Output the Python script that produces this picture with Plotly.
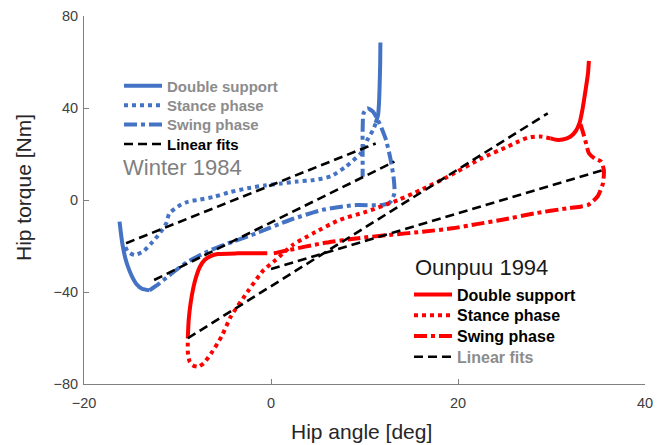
import plotly.graph_objects as go

# ---------------- data (hip angle [deg], hip torque [Nm]) ----------------
# Winter 1984
w_ds_x = [11.7, 11.68, 11.62, 11.55, 11.45, 11.2, None,
          -16.2, -16.05, -15.9, -15.6, -15.3, -14.9, -14.4, -13.8, -13.0]
w_ds_y = [68.5, 60, 50, 42, 37, 33.5, None,
          -9.4, -14.5, -19, -25, -29, -33, -36.5, -38.6, -39.3]

w_st_x = [11.2, 10.9, 10.3, 9.6, 8.0, 6.4, 4.6, 2.8, 1.1, -0.7, -2.5, -4.3, -6.1,
          -7.6, -8.9, -9.6, -10.3, -10.9, -11.2, -11.9, -12.8, -13.7, -14.6, -15.3, -15.6]
w_st_y = [33.3, 30.4, 26.1, 20.3, 14.5, 10.3, 8.7, 8.0, 7.2, 6.3, 5.1, 3.5, 1.4,
          0.2, -0.8, -2.0, -3.8, -6.0, -10.1, -14.5, -18.8, -22.5, -23.9, -22.5, -20.3]

w_sw_x = [-13.0, -12.0, -11.05, -10.0, -8.9, -6.4, -4.0, -1.6, 2.0, 5.5, 9.1, 11.9,
          12.8, 13.2, 13.2, 13.1, 12.8, 12.3, 11.6, 10.9, 10.3, 9.9, 9.8, 9.8, 9.8]
w_sw_y = [-39.3, -36.5, -33.3, -30.0, -26.8, -21.7, -18.0, -14.5, -8.7, -4.3, -2.2, -2.2,
          -0.7, 2.9, 5.8, 10.1, 17.4, 26.1, 33.3, 38.4, 39.9, 37.7, 30.4, 18.8, 10.1]

w_fit_x = [-15.5, 11.2, None, -12.5, 13.2]
w_fit_y = [-18.8, 24.6, None, -34.8, 16.7]

# Ounpuu 1994
o_ds_x = [34.0, 33.9, 33.7, 33.5, 33.3, 33.0, 32.6, 32.0, 31.2, 30.5, 29.9, None,
          -8.9, -8.8, -8.6, -8.3, -8.0, -7.6, -7.1, -6.4, -5.7, -3.6, -0.4]
o_ds_y = [60.5, 55, 49.3, 44, 39.1, 33.5, 30.0, 27.5, 26.3, 26.2, 26.8, None,
          -60.1, -52, -44.9, -38, -33.3, -29, -26.1, -24.3, -23.5, -23.2, -23.2]

o_st_x = [29.9, 28.8, 27.5, 26.5, 25.3, 22.5, 18.9, 16.0, 13.6, 10.2, 7.3, 4.5, 2.3,
          0.5, -0.8, -2.5, -4.3, -5.3, -6.4, -7.2, -7.8, -8.4, -8.7, -8.9, -8.9, -8.9]
o_st_y = [26.8, 27.6, 27.2, 25.5, 23.2, 18.1, 10.1, 4.3, 0.0, -5.1, -8.7, -14.5, -19.6,
          -26.1, -30.5, -39.9, -50.7, -59.4, -66.7, -71.0, -72.5, -71.8, -70.3, -66.0, -62.3, -60.1]

o_sw_x = [0.3, 2.0, 5.5, 9.1, 12.65, 16.2, 19.4, 22.0, 24.6, 28.2, 31.7, 33.2, 33.9,
          34.9, 35.5, 35.6, 35.3, 34.6, 34.0, 33.7, 33.3, 33.0]
o_sw_y = [-23.2, -21.7, -18.8, -16.7, -15.2, -13.8, -12.3, -10.5, -8.7, -5.8, -3.6, -2.8, -2.2,
          1.4, 7.2, 13.0, 16.7, 18.1, 20.3, 24.6, 30.4, 34.0]

o_fit_x = [-8.9, 29.6, None, 0.0, 35.5]
o_fit_y = [-60.1, 37.7, None, -30.0, 13.0]

x_ticks = [-20, 0, 20, 40]
y_ticks = [-80, -40, 0, 40, 80]

# ---------------- styling ----------------
BLUE = "#4472C4"
RED = "#FF0000"
GRAY_TXT = "#8c8c8c"
FONT = "Liberation Sans, Arial, sans-serif"
DOT = "4px,4px"
DASHDOT = "13px,4px,4px,4px"
FITDASH = "9px,5px"

# plot area in pixels (figure coordinates)
L, R, T, B = 84, 645, 16, 384
def px_x(p):
    return (p - L) / (R - L)
def px_y(p):
    return (B - p) / (B - T)


def lab(text, color):
    return f"<span style='color:{color}'>{text}</span>"


fig = go.Figure()
legends = {}

def add(x, y, name, color, width, dash, legend_id, row_px, left_px, fsize):
    fig.add_trace(go.Scatter(
        x=x, y=y, mode="lines", name=name, legend=legend_id, showlegend=True,
        line=dict(color=color, width=width, dash=dash, shape="spline", smoothing=0.6),
        connectgaps=False, hoverinfo="skip"))
    legends[legend_id] = dict(
        x=px_x(left_px), y=px_y(row_px), xanchor="left", yanchor="middle",
        bgcolor="rgba(0,0,0,0)", borderwidth=0, itemwidth=38,
        font=dict(family=FONT, size=fsize, weight="bold", color="#000000"))

w_rows = [86.0, 105.4, 124.8, 144.2]
o_rows = [294.5, 315.3, 336.1, 356.9]
WL, OL = 119, 409

# Winter 1984
add(w_ds_x, w_ds_y, lab("Double support", GRAY_TXT), BLUE, 4, "solid", "legend", w_rows[0], WL, 15)
add(w_st_x, w_st_y, lab("Stance phase", GRAY_TXT), BLUE, 4, DOT, "legend2", w_rows[1], WL, 15)
add(w_sw_x, w_sw_y, lab("Swing phase", GRAY_TXT), BLUE, 4, DASHDOT, "legend3", w_rows[2], WL, 15)
add(w_fit_x, w_fit_y, lab("Linear fits", "#000000"), "#000000", 2.6, FITDASH, "legend4", w_rows[3], WL, 15)

# Ounpuu 1994
add(o_ds_x, o_ds_y, lab("Double support", "#000000"), RED, 4, "solid", "legend5", o_rows[0], OL, 16)
add(o_st_x, o_st_y, lab("Stance phase", "#000000"), RED, 4, DOT, "legend6", o_rows[1], OL, 16)
add(o_sw_x, o_sw_y, lab("Swing phase", "#000000"), RED, 4, DASHDOT, "legend7", o_rows[2], OL, 16)
add(o_fit_x, o_fit_y, lab("Linear fits", GRAY_TXT), "#000000", 2.6, FITDASH, "legend8", o_rows[3], OL, 16)

axis_common = dict(
    showline=True, linecolor="#808080", linewidth=1,
    ticks="inside", ticklen=5, tickcolor="#808080", tickwidth=1,
    showgrid=False, zeroline=False, mirror=False, automargin=False,
    tickfont=dict(family=FONT, size=14.5, color="#404040"),
)

fig.update_layout(
    width=665, height=445,
    showlegend=True,
    margin=dict(l=L, r=665 - R, t=T, b=445 - B, autoexpand=False),
    paper_bgcolor="white", plot_bgcolor="white",
    font=dict(family=FONT),
    xaxis=dict(range=[-20, 40], tickvals=x_ticks, ticklabelstandoff=6, **axis_common),
    yaxis=dict(range=[-80, 80], tickvals=y_ticks, ticklabelstandoff=2, **axis_common),
    annotations=[
        dict(text="Hip angle [deg]", xref="paper", yref="paper",
             x=px_x(361.5), y=px_y(432), xanchor="center", yanchor="middle",
             showarrow=False, font=dict(family=FONT, size=21, color="#262626")),
        dict(text="Hip torque [Nm]", xref="paper", yref="paper",
             x=px_x(23), y=px_y(188), textangle=-90,
             xanchor="center", yanchor="middle", showarrow=False,
             font=dict(family=FONT, size=21, color="#262626")),
        dict(text="Winter 1984", xref="paper", yref="paper",
             x=px_x(121), y=px_y(168), xanchor="left", yanchor="middle",
             showarrow=False, font=dict(family=FONT, size=22, color="#7f7f7f")),
        dict(text="Ounpuu 1994", xref="paper", yref="paper",
             x=px_x(413), y=px_y(267), xanchor="left", yanchor="middle",
             showarrow=False, font=dict(family=FONT, size=22, color="#1a1a1a")),
    ],
)
fig.update_layout(**legends)

fig.write_html("out.html", config={"displayModeBar": False},
               post_script="document.body.style.margin='0';")
